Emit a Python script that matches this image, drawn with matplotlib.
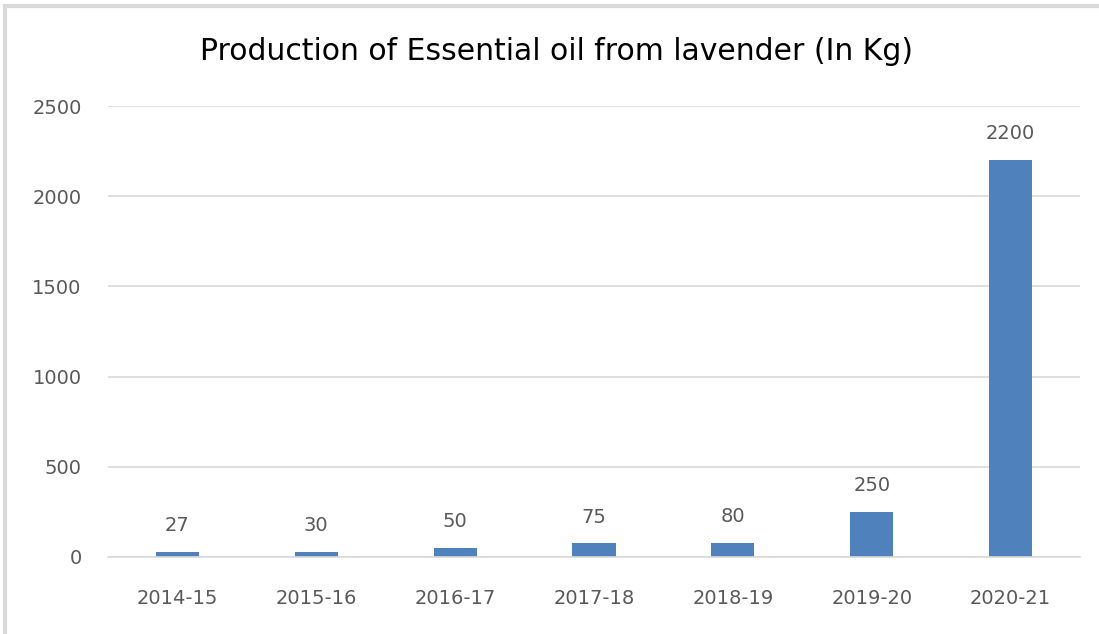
import matplotlib.pyplot as plt
from matplotlib.patches import Rectangle

anos = ['2014-15', '2015-16', '2016-17', '2017-18', '2018-19', '2019-20', '2020-21']
producao = [27, 30, 50, 75, 80, 250, 2200]
ticks_y = [0, 500, 1000, 1500, 2000, 2500]

cinza = '#595959'
azul = '#4F81BD'
fonte = ['DejaVu Sans']

fig = plt.figure(figsize=(10.99, 6.34), dpi=100)
ax = fig.add_axes([0.0983, 0.1215, 0.8844, 0.7113])

x = range(len(anos))
barras = ax.bar(x, producao, width=0.31, color=azul, zorder=2)
for xi, v in zip(x, producao):
    ax.annotate(str(v), (xi, v), xytext=(0, 12), textcoords='offset points',
                ha='center', va='bottom', fontsize=14, color=cinza, family=fonte)

ax.set_xlim(-0.5, len(anos) - 0.5)
ax.set_ylim(0, 2500)
ax.set_yticks(ticks_y)
ax.set_xticks(list(x))
ax.set_xticklabels(anos)
ax.yaxis.grid(True, color='#D9D9D9', linewidth=1.2, zorder=0)
ax.tick_params(length=0, labelsize=14, labelcolor=cinza)
ax.tick_params(axis='x', pad=23)
ax.tick_params(axis='y', pad=19)
for lbl in ax.get_xticklabels() + ax.get_yticklabels():
    lbl.set_family(fonte)
for s in ['top', 'right', 'left']:
    ax.spines[s].set_visible(False)
ax.spines['bottom'].set_color('#D9D9D9')
ax.spines['bottom'].set_linewidth(1.2)

fig.text(0.506, 0.918, 'Production of Essential oil from lavender (In Kg)',
         ha='center', va='center', fontsize=21.5, color='black', family=fonte)

# moldura cinza (so esquerda e topo visiveis)
fig.patches.append(Rectangle((5 / 1099, -0.1), 1.2, 1.1 - 6 / 634, transform=fig.transFigure,
                             fill=False, edgecolor='#D9D9D9', linewidth=3, zorder=0))

fig.savefig('out.png', dpi=100)
